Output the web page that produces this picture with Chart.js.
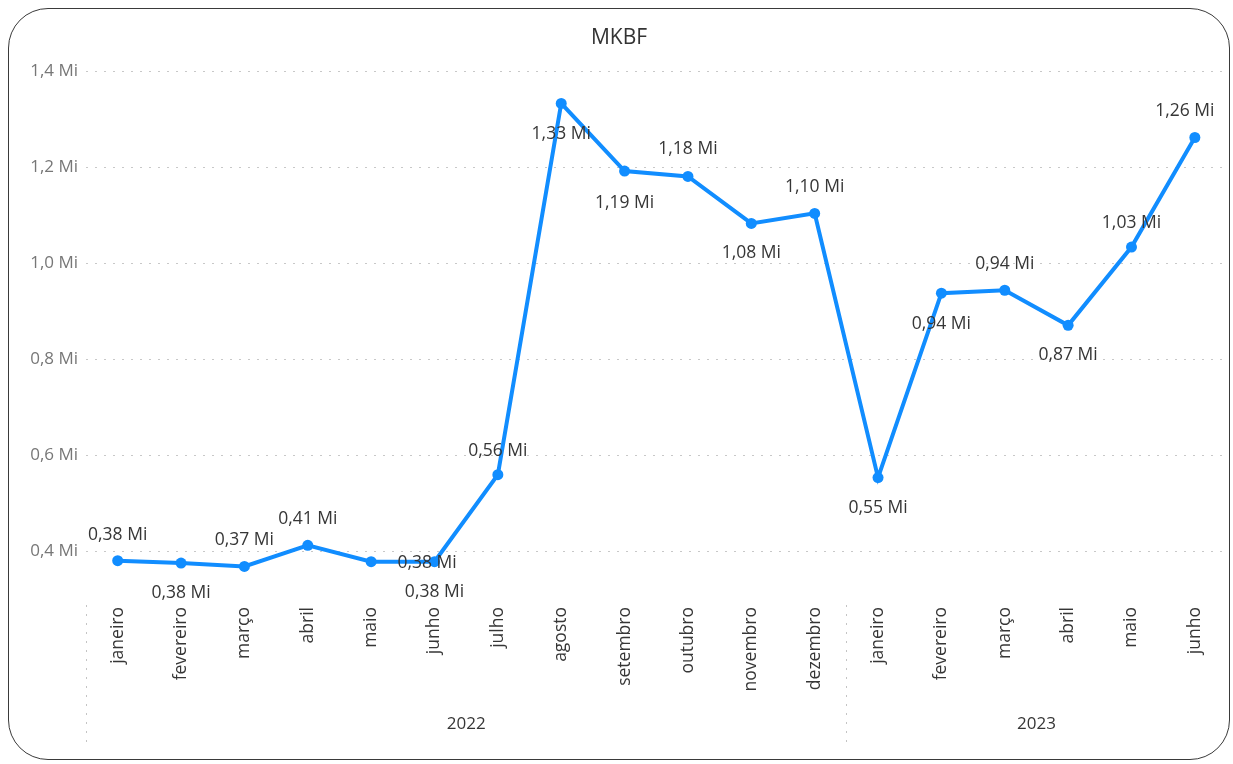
<!DOCTYPE html>
<html>
<head>
<meta charset="utf-8">
<title>MKBF</title>
<script src="https://cdn.jsdelivr.net/npm/chart.js@4.4.1/dist/chart.umd.min.js"></script>
<style>
  html, body { margin: 0; padding: 0; background: #fff; }
  #wrap { position: relative; width: 1233px; height: 764px; overflow: hidden; }
  #frame {
    position: absolute; left: 8px; top: 8px; width: 1222px; height: 752px;
    border: 1.6px solid #3a3a3a; border-radius: 40px; box-sizing: border-box;
  }
  canvas { position: absolute; left: 0; top: 0; }
</style>
</head>
<body>
<div id="wrap">
  <div id="frame"></div>
  <canvas id="chart" width="1233" height="764"></canvas>
</div>
<script>
// Months (x axis), year group for each month, MKBF values (millions)
const months = ["janeiro", "fevereiro", "março", "abril", "maio", "junho", "julho", "agosto",
  "setembro", "outubro", "novembro", "dezembro",
  "janeiro", "fevereiro", "março", "abril", "maio", "junho"];
const years = ["2022", "2022", "2022", "2022", "2022", "2022", "2022", "2022", "2022", "2022", "2022", "2022",
  "2023", "2023", "2023", "2023", "2023", "2023"];
const values = [0.381, 0.376, 0.369, 0.413, 0.379, 0.379, 0.560, 1.333, 1.192, 1.181, 1.083, 1.104,
  0.554, 0.938, 0.944, 0.871, 1.034, 1.262];
const yTicks = [0.4, 0.6, 0.8, 1.0, 1.2, 1.4];

// where each data label sits relative to its point (Power BI style placement)
const labelOffsets = [[0, -26], [0, 30], [0, -26], [0, -26], [56, 1], [0, 30], [0, -24], [0, 31],
  [0, 32], [0, -27], [0, 30], [0, -26], [0, 30], [0, 31], [0, -26], [0, 30], [0, -24], [-10, -26]];

const fontFamily = "'Open Sans', 'Noto Sans', sans-serif";
const fmt = (v, d) => v.toFixed(d).replace(".", ",") + " Mi";

// data labels drawn next to each point
const dataLabels = {
  id: "dataLabels",
  afterDatasetsDraw(chart) {
    const ctx = chart.ctx;
    const meta = chart.getDatasetMeta(0);
    ctx.save();
    ctx.font = "17.5px " + fontFamily;
    ctx.fillStyle = "#363636";
    ctx.textAlign = "center";
    ctx.textBaseline = "middle";
    meta.data.forEach((pt, i) => {
      const off = labelOffsets[i];
      ctx.fillText(fmt(values[i], 2), pt.x + off[0], pt.y + off[1]);
    });
    ctx.restore();
  }
};

// year row + dotted group separators under the month labels
const yearGroups = {
  id: "yearGroups",
  afterDraw(chart) {
    const ctx = chart.ctx;
    const xs = chart.scales.x;
    const groups = [];
    years.forEach((y, i) => {
      const last = groups[groups.length - 1];
      if (last && last.year === y) last.end = i;
      else groups.push({ year: y, start: i, end: i });
    });
    const half = (xs.getPixelForValue(1) - xs.getPixelForValue(0)) / 2;
    ctx.save();
    ctx.strokeStyle = "#c4c4c4";
    ctx.lineWidth = 1;
    ctx.setLineDash([2, 7]);
    groups.forEach(g => {
      const left = xs.getPixelForValue(g.start) - half;
      ctx.beginPath();
      ctx.moveTo(Math.round(left) + 0.5, 605);
      ctx.lineTo(Math.round(left) + 0.5, 742);
      ctx.stroke();
    });
    ctx.setLineDash([]);
    ctx.font = "17px " + fontFamily;
    ctx.fillStyle = "#363636";
    ctx.textAlign = "center";
    ctx.textBaseline = "middle";
    groups.forEach(g => {
      const cx = (xs.getPixelForValue(g.start) + xs.getPixelForValue(g.end)) / 2;
      ctx.fillText(g.year, cx, 724);
    });
    ctx.restore();
  }
};

const ctx = document.getElementById("chart").getContext("2d");
new Chart(ctx, {
  type: "line",
  data: {
    labels: months,
    datasets: [{
      label: "MKBF",
      data: values,
      borderColor: "#118DFF",
      backgroundColor: "#118DFF",
      borderWidth: 4,
      pointRadius: 5.5,
      pointHoverRadius: 5.5,
      pointBorderWidth: 0,
      tension: 0
    }]
  },
  options: {
    responsive: false,
    animation: false,
    layout: { padding: { left: 8, right: 3, top: 0, bottom: 0 } },
    plugins: {
      legend: { display: false },
      tooltip: { enabled: false },
      title: {
        display: true,
        text: "MKBF",
        color: "#333",
        font: { family: fontFamily, size: 21, weight: "normal" },
        padding: { top: 25, bottom: 21 }
      }
    },
    scales: {
      x: {
        offset: true,
        grid: { display: false, drawTicks: false },
        border: { display: false },
        ticks: {
          color: "#363636",
          font: { family: fontFamily, size: 17.5 },
          minRotation: 90,
          maxRotation: 90,
          autoSkip: false,
          padding: 17
        },
        afterFit(scale) { scale.height = 174; }
      },
      y: {
        min: 0.32,
        max: 1.4,
        grid: {
          color: "#c8c8c8",
          lineWidth: 1,
          drawTicks: false
        },
        border: { display: false, dash: [2, 7] },
        ticks: {
          color: "#777",
          font: { family: fontFamily, size: 17 },
          padding: 8,
          callback: v => fmt(v, 1)
        },
        afterBuildTicks(scale) { scale.ticks = yTicks.map(v => ({ value: v })); },
        afterFit(scale) { scale.width = 78; }
      }
    }
  },
  plugins: [dataLabels, yearGroups]
});
</script>
</body>
</html>
